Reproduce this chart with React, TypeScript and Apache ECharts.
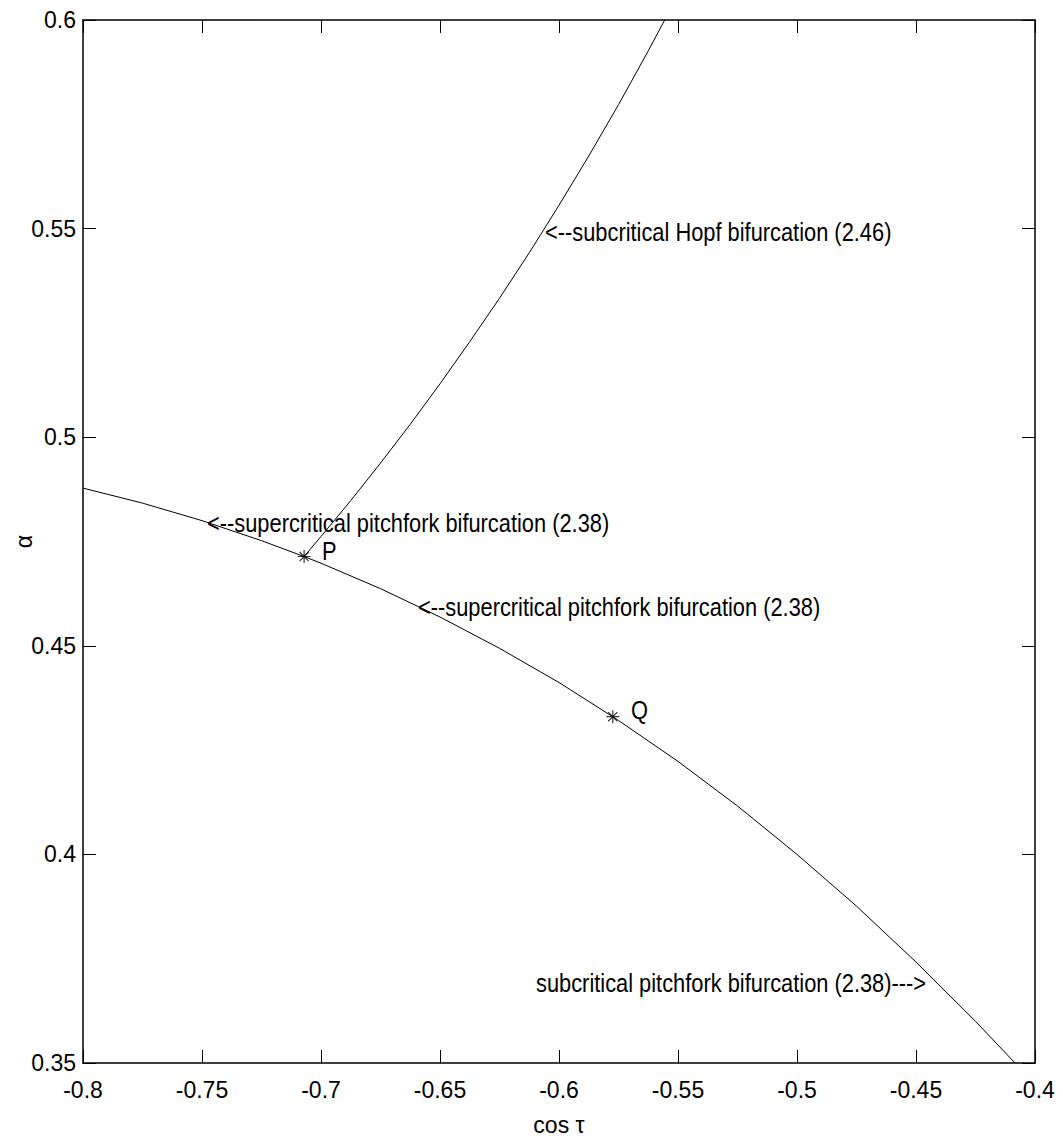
import React, { useEffect, useRef } from "react";
import * as echarts from "echarts";

// cos(tau) / alpha readings for the pitchfork curve
const pitchforkCos = [-0.8, -0.775, -0.75, -0.725, -0.7071, -0.7, -0.675, -0.65, -0.625, -0.6, -0.5774, -0.575, -0.55, -0.525, -0.5, -0.475, -0.45, -0.425, -0.4084];
const pitchforkAlpha = [0.4878, 0.4842, 0.48, 0.4752, 0.4714, 0.4698, 0.4637, 0.4569, 0.4494, 0.4412, 0.433, 0.4321, 0.4223, 0.4116, 0.4, 0.3876, 0.3742, 0.36, 0.35];

// cos(tau) / alpha readings for the Hopf curve
const hopfCos = [-0.7071, -0.7, -0.6875, -0.675, -0.6625, -0.65, -0.6375, -0.625, -0.6125, -0.6, -0.5875, -0.575, -0.5625, -0.5556];
const hopfAlpha = [0.4714, 0.4762, 0.4848, 0.4938, 0.5031, 0.5128, 0.5229, 0.5333, 0.5442, 0.5556, 0.5674, 0.5797, 0.5926, 0.6];

// marked points
const pointNames = ["P", "Q"];
const pointCos = [-0.7071, -0.5774];
const pointAlpha = [0.4714, 0.433];

// annotation texts
const annotationTexts = [
  "<--subcritical Hopf bifurcation (2.46)",
  "<--supercritical pitchfork bifurcation (2.38)",
  "<--supercritical pitchfork bifurcation (2.38)",
  "subcritical pitchfork bifurcation (2.38)--->",
];

const xName = "cos τ";
const yName = "α";

// layout (pixels)
const annotationPos = [
  [545, 232],
  [207, 523],
  [418, 607],
  [536, 983],
];
const pointLabelPos = [
  [322, 551],
  [631, 710],
];

const FONT = "'Liberation Sans', Arial, Helvetica, sans-serif";
const FS = 23;
const ANN_FS = 26;
const ANN_SCALE = 0.84;

export default function App() {
  const ref = useRef<HTMLDivElement>(null);
  useEffect(() => {
    if (!ref.current) return;
    const chart = echarts.init(ref.current, null, { renderer: "svg" });
    const axisCommon = {
      min: -0.8,
      max: -0.4,
      interval: 0.05,
    };
    const tickStyle = { show: true, inside: true, length: 13, lineStyle: { color: "#000", width: 1 } };
    const lineStyle = { show: true, lineStyle: { color: "#000", width: 1.5 } };
    const asterisk = "path://M5 0 L5 10 M0 5 L10 5 M1.5 1.5 L8.5 8.5 M1.5 8.5 L8.5 1.5";
    chart.setOption({
      animation: false,
      backgroundColor: "#fff",
      grid: { left: 83, right: 28, top: 20, bottom: 79, containLabel: false, outerBoundsMode: "none" },
      xAxis: [
        {
          type: "value",
          ...axisCommon,
          position: "bottom",
          name: xName,
          nameLocation: "middle",
          nameGap: 50,
          nameMoveOverlap: false,
          nameTextStyle: { color: "#000", fontSize: FS, fontFamily: FONT },
          axisLine: lineStyle,
          axisTick: tickStyle,
          splitLine: { show: false },
          axisLabel: {
            color: "#000",
            fontSize: FS,
            fontFamily: FONT,
            margin: 15,
            formatter: (v: number) => String(+v.toFixed(2)),
          },
        },
        {
          type: "value",
          ...axisCommon,
          position: "top",
          axisLine: lineStyle,
          axisTick: tickStyle,
          splitLine: { show: false },
          axisLabel: { show: false },
        },
      ],
      yAxis: [
        {
          type: "value",
          min: 0.35,
          max: 0.6,
          interval: 0.05,
          position: "left",
          name: yName,
          nameLocation: "middle",
          nameRotate: 90,
          nameGap: 48,
          nameMoveOverlap: false,
          nameTextStyle: { color: "#000", fontSize: FS, fontFamily: FONT },
          axisLine: lineStyle,
          axisTick: tickStyle,
          splitLine: { show: false },
          axisLabel: {
            color: "#000",
            fontSize: FS,
            fontFamily: FONT,
            margin: 7,
            formatter: (v: number) => String(+v.toFixed(2)),
          },
        },
        {
          type: "value",
          min: 0.35,
          max: 0.6,
          interval: 0.05,
          position: "right",
          axisLine: lineStyle,
          axisTick: tickStyle,
          splitLine: { show: false },
          axisLabel: { show: false },
        },
      ],
      series: [
        {
          type: "line",
          data: pitchforkCos.map((c, i) => [c, pitchforkAlpha[i]]),
          showSymbol: false,
          symbol: "none",
          lineStyle: { color: "#000", width: 1 },
          clip: true,
        },
        {
          type: "line",
          data: hopfCos.map((c, i) => [c, hopfAlpha[i]]),
          showSymbol: false,
          symbol: "none",
          lineStyle: { color: "#000", width: 1 },
          clip: true,
        },
        {
          type: "scatter",
          data: pointCos.map((c, i) => ({ name: pointNames[i], value: [c, pointAlpha[i]] })),
          symbol: asterisk,
          symbolSize: 13,
          itemStyle: { color: "transparent", borderColor: "#000", borderWidth: 1.2 },
          z: 5,
        },
      ],
      graphic: [
        ...annotationTexts.map((t, i) => ({
          type: "text",
          x: annotationPos[i][0],
          y: annotationPos[i][1],
          scaleX: ANN_SCALE,
          style: { text: t, fontSize: ANN_FS, fontFamily: FONT, fill: "#000", verticalAlign: "middle", align: "left" },
        })),
        ...pointNames.map((n, i) => ({
          type: "text",
          x: pointLabelPos[i][0],
          y: pointLabelPos[i][1],
          scaleX: ANN_SCALE,
          style: { text: n, fontSize: ANN_FS, fontFamily: FONT, fill: "#000", verticalAlign: "middle", align: "left" },
        })),
      ],
    });
    return () => chart.dispose();
  }, []);
  return (
    <div
      ref={ref}
      style={{ position: "absolute", left: 0, top: 0, width: 1063, height: 1142, background: "#fff" }}
    />
  );
}
